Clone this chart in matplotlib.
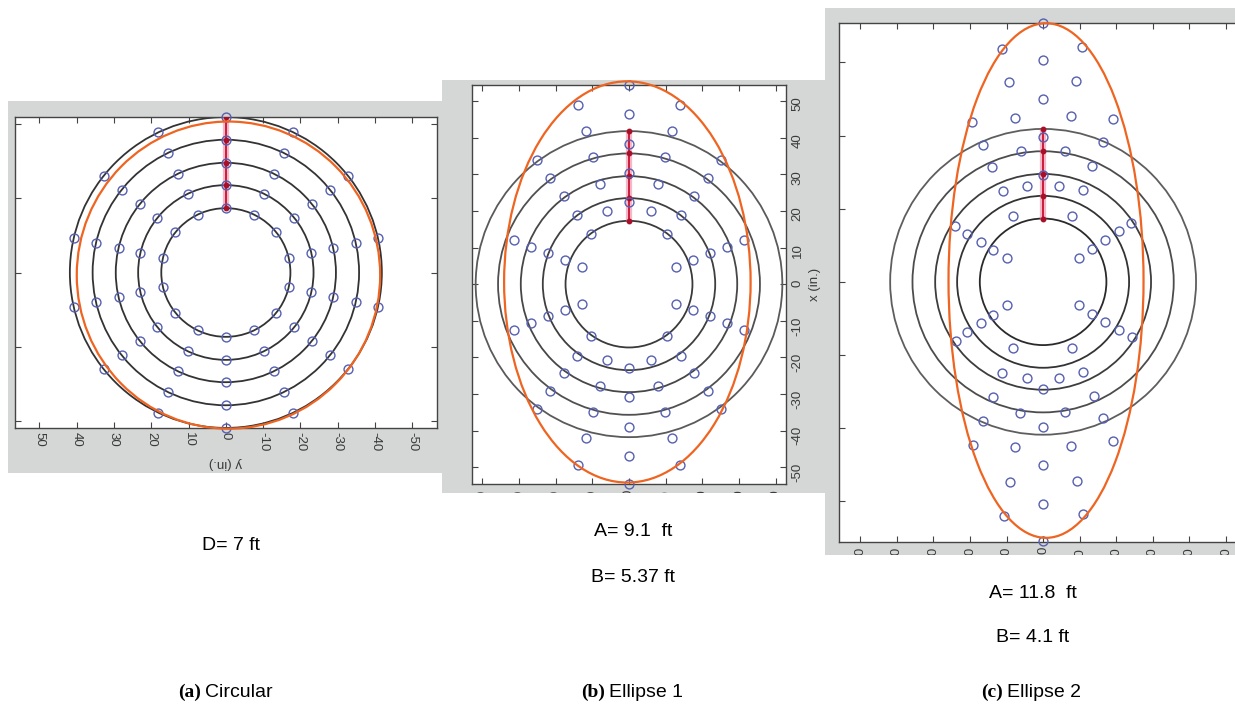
import numpy as np
import matplotlib
matplotlib.use("Agg")
import matplotlib.pyplot as plt
from matplotlib.patches import Circle, Ellipse
from matplotlib.transforms import Bbox, TransformedBbox

W, H = 1235, 706

# ---------------- data ----------------
ring_radii = [17.3, 23.5, 29.5, 35.7, 41.8]
marker_angles_deg = [90, 115.7, 141.4, 167.1, 192.9, 218.6, 244.3,
                     270, 295.7, 321.4, 347.1, 12.9, 38.6, 64.3]
red_line_y = [41.8, 35.7, 29.5, 23.5, 17.3]

b_x = [0, -14.0, 14.0, 0, -11.8, 11.8, 0, -25.0, -9.8, 9.8, 25.0, 0,
       -21.5, -7.9, 7.9, 21.5, -17.7, 17.7, 0, -14.2, -5.9, 5.9, 14.2,
       -10.4, 10.4, -31.3, 31.3, -26.6, 26.6, -22.2, 22.2, -17.5, 17.5,
       -12.8, 12.8,
       -12.8, 12.8, -17.5, 17.5, -22.2, 22.2, -26.6, 26.6, -31.3, 31.3,
       -10.4, 10.4, -14.2, -5.9, 5.9, 14.2, 0, -17.7, 17.7, -21.5, -7.9,
       7.9, 21.5, 0, -25.0, -9.8, 9.8, 25.0, 0, -11.8, 11.8, 0, -14.0,
       14.0, 0]
b_y = [54.5, 49.0, 49.0, 46.4, 41.8, 41.8, 38.4, 33.8, 34.6, 34.6, 33.8,
       30.4, 28.9, 27.4, 27.4, 28.9, 24.0, 24.0, 22.5, 19.0, 20.1, 20.1,
       19.0, 13.8, 13.8, 12.0, 12.0, 10.2, 10.2, 8.4, 8.4, 6.6, 6.6, 4.7,
       4.7,
       -5.3, -5.3, -7.0, -7.0, -8.8, -8.8, -10.6, -10.6, -12.5, -12.5,
       -14.2, -14.2, -19.6, -20.6, -20.6, -19.6, -22.9, -24.4, -24.4,
       -29.3, -27.9, -27.9, -29.3, -30.9, -34.2, -35.0, -35.0, -34.2,
       -38.9, -42.1, -42.1, -46.9, -49.4, -49.4, -54.7]

c_x = [0, -11.1, 10.6, 0, -9.3, 8.9, 0, -19.4, -7.7, 7.6, 19.0, 0,
       -16.5, 16.5, -6.1, 6.0, -13.9, 13.5, 0, -11.0, -4.5, 4.3, 10.9,
       -8.1, 7.9, -24.1, 24.0, -20.9, 20.7, -17.1, 17.0, -13.7, 13.5,
       -9.9, 9.9,
       -9.9, 9.9, -13.7, 13.5, -17.1, 17.0, -20.9, 20.7, -23.9, 24.3,
       -8.1, 7.9, -11.1, -4.5, 4.3, 10.9, 0, -13.7, 13.9, -6.3, 6.0,
       -16.5, 16.5, 0, -19.2, -7.7, 7.6, 19.2, 0, -9.0, 9.2, 0, -10.8,
       10.8, 0]
c_y = [70.9, 63.7, 64.2, 60.6, 54.5, 54.8, 50.1, 43.7, 44.8, 45.2, 44.6,
       39.7, 37.5, 38.1, 35.8, 35.8, 31.3, 31.6, 29.3, 24.7, 26.3, 26.3,
       25.0, 18.1, 18.1, 15.2, 16.1, 13.2, 13.9, 11.0, 11.3, 8.8, 9.1,
       6.4, 6.6,
       -6.4, -6.4, -9.0, -8.7, -11.2, -10.9, -13.8, -13.1, -16.2, -15.1,
       -18.0, -18.0, -25.0, -26.2, -26.2, -24.7, -29.3, -31.5, -31.1,
       -35.8, -35.7, -38.0, -37.3, -39.7, -44.5, -45.2, -44.8, -43.6,
       -50.1, -54.7, -54.4, -60.7, -64.1, -63.4, -70.8]

ellipse_a = dict(center=(-0.7, -0.7), width=81.3, height=82.6)
ellipse_b = dict(center=(-0.45, 0.6), width=67.2, height=109.6)
ellipse_c = dict(center=(0.8, 0.35), width=53.3, height=140.7)

xticks_a = [50, 40, 30, 20, 10, 0, -10, -20, -30, -40, -50]
yticks_a = [-40, -20, 0, 20, 40]
xticks_b = [-40, -30, -20, -10, 0, 10, 20, 30, 40]
yticks_b = [-50, -40, -30, -20, -10, 0, 10, 20, 30, 40, 50]
xticks_c = [-50, -40, -30, -20, -10, 0, 10, 20, 30, 40, 50]
yticks_c = [-60, -40, -20, 0, 20, 40, 60]

dim_texts = [("D= 7 ft", 231, 545), ("A= 9.1  ft", 633, 531),
             ("B= 5.37 ft", 633, 578), ("A= 11.8  ft", 1033, 594),
             ("B= 4.1 ft", 1033, 638)]
captions = [("(a)", "Circular", 201), ("(b)", "Ellipse 1", 605),
            ("(c)", "Ellipse 2", 1003)]

# ---------------- styles ----------------
GRAY = "#d4d7d5"
BLUE = "#5660b0"
ORANGE = "#ef6420"
RING = "#333333"
TICKC = "#444444"
LABC = "#3a3a3a"
TICKFS = 9.5
plt.rcParams["font.family"] = ["Liberation Sans", "DejaVu Sans"]

fig = plt.figure(figsize=(W / 100, H / 100), dpi=100)


def rect(x0, y0, x1, y1):
    return [x0 / W, 1 - y1 / H, (x1 - x0) / W, (y1 - y0) / H]


def clipbox(x0, y0, x1, y1):
    return TransformedBbox(Bbox.from_extents(x0 / W, 1 - y1 / H, x1 / W, 1 - y0 / H),
                           fig.transFigure)


def background(x0, y0, x1, y1):
    bg = fig.add_axes(rect(x0, y0, x1, y1))
    bg.set_facecolor(GRAY)
    bg.set_xticks([])
    bg.set_yticks([])
    for s in bg.spines.values():
        s.set_visible(False)
    bg.set_zorder(-1)
    return bg


def draw_panel(ax, px, py, ell, ring_colors):
    for r, col in zip(ring_radii, ring_colors):
        ax.add_patch(Circle((0, 0), r, fill=False, ec=col, lw=1.3, zorder=2))
    ax.plot([0] * len(red_line_y), red_line_y, color="#f08aa6", lw=4.5,
            alpha=0.6, solid_capstyle="butt", zorder=3)
    ax.plot([0] * len(red_line_y), red_line_y, color="#c8102e", lw=1.3,
            zorder=4)
    ax.plot([0] * len(red_line_y), red_line_y, "o", color="#a8102a", ms=3.2,
            zorder=5)
    ax.plot(px, py, "o", mfc="none", mec=BLUE, ms=6.4, mew=1.0, zorder=6,
            clip_on=False)
    ax.add_patch(Ellipse(ell["center"], ell["width"], ell["height"], fill=False,
                         ec=ORANGE, lw=1.6, zorder=7, clip_on=False))
    for s in ax.spines.values():
        s.set_color(TICKC)
        s.set_linewidth(1.0)
    ax.tick_params(which="both", direction="in", length=4, width=0.8,
                   color=TICKC, labelcolor=LABC, labelsize=TICKFS,
                   top=True, bottom=True, left=True, right=True)


def clip_labels(ax, box):
    for t in ax.xaxis.get_major_ticks() + ax.yaxis.get_major_ticks():
        for lab in (t.label1, t.label2):
            lab.set_clip_box(box)
            lab.set_clip_on(True)


# ---------- backgrounds ----------
background(8, 101, 445, 473)
background(442, 80, 825, 493)
background(825, 8, 1240, 555)

# ---------- panel (a) ----------
axA = fig.add_axes(rect(15, 116.7, 436.7, 428.3))
angles = np.deg2rad(marker_angles_deg)
a_x = np.concatenate([r * np.cos(angles) for r in ring_radii])
a_y = np.concatenate([r * np.sin(angles) for r in ring_radii])
draw_panel(axA, a_x, a_y, ellipse_a, [RING] * 5)
axA.set_xlim(56.5, -56.5)
axA.set_ylim(-41.9, 41.9)
axA.set_xticks(xticks_a)
axA.set_xticklabels([str(v) for v in xticks_a], rotation=-90)
axA.set_yticks(yticks_a)
axA.set_yticklabels([str(v) for v in yticks_a], rotation=-90)
axA.tick_params(labelleft=False, labelright=True, labeltop=False,
                labelbottom=True, pad=3)
axA.set_xlabel("y (in.)", rotation=180, fontsize=TICKFS, color=LABC, labelpad=4)
clip_labels(axA, clipbox(8, 101, 445, 473))

# ---------- panel (b) ----------
axB = fig.add_axes(rect(472, 85, 786, 484))
draw_panel(axB, b_x, b_y, ellipse_b,
           ["#3a3a3a", "#3f3f3f", "#474747", "#505050", "#5a5a5a"])
axB.set_xlim(-42.8, 42.8)
axB.set_ylim(-54.6, 54.4)
axB.set_xticks(xticks_b)
axB.set_xticklabels([str(v) for v in xticks_b], rotation=90)
axB.set_yticks(yticks_b)
axB.set_yticklabels([str(v) for v in yticks_b], rotation=90)
axB.tick_params(labelleft=False, labelright=True, labeltop=False,
                labelbottom=True, pad=4)
axB.yaxis.set_label_position("right")
axB.set_ylabel("x (in.)", rotation=90, fontsize=TICKFS, color=LABC, labelpad=4)
clip_labels(axB, clipbox(442, 80, 825, 493))

# ---------- panel (c) ----------
axC = fig.add_axes(rect(839.3, 22.5, 1246.9, 541.5))
draw_panel(axC, c_x, c_y, ellipse_c,
           ["#2a2a2a", "#333333", "#3d3d3d", "#4c4c4c", "#5e5e5e"])
axC.set_xlim(-55.7, 55.7)
axC.set_ylim(-71.0, 70.9)
axC.set_xticks(xticks_c)
axC.set_xticklabels([str(v) for v in xticks_c], rotation=90)
axC.set_yticks(yticks_c)
axC.tick_params(labelleft=False, labelright=False, labeltop=False,
                labelbottom=True, pad=4)
clip_labels(axC, clipbox(825, 8, 1240, 555))

# ---------- texts ----------
for s, x, y in dim_texts:
    fig.text(x / W, 1 - y / H, s, ha="center", va="center", fontsize=14,
             family=["Liberation Sans", "DejaVu Sans"], color="black")
for tag, name, x in captions:
    fig.text(x / W, 1 - 697 / H, tag, ha="right", va="baseline", fontsize=14,
             family=["Liberation Serif", "DejaVu Serif"], weight="bold")
    fig.text((x + 4) / W, 1 - 697 / H, name, ha="left", va="baseline",
             fontsize=14, family=["Liberation Sans", "DejaVu Sans"])

fig.savefig("out.png", dpi=100)
